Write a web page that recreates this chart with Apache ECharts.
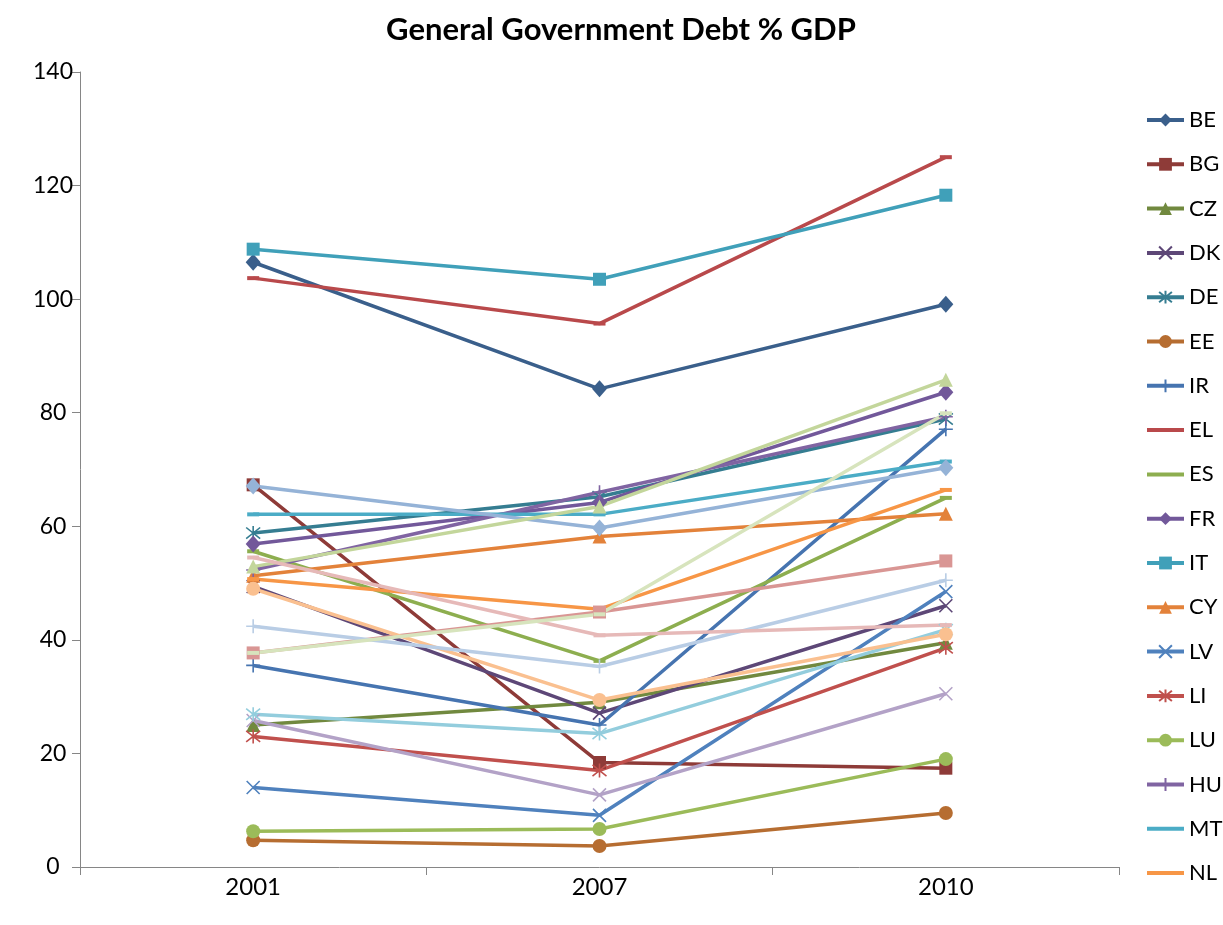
<!DOCTYPE html>
<html>
<head>
<meta charset="utf-8">
<script src="https://cdn.jsdelivr.net/npm/echarts@6/dist/echarts.min.js"></script>
<style>
  html, body { margin: 0; padding: 0; background: #fff; }
  #chart { width: 1223px; height: 925px; }
</style>
</head>
<body>
<div id="chart"></div>
<script>
// Years on the category axis
const categories = ['2001', '2007', '2010'];
const yTicks = [0, 20, 40, 60, 80, 100, 120, 140];

// General government debt, % of GDP
const BE = [106.5, 84.2, 99.1];
const BG = [67.3, 18.4, 17.4];
const CZ = [25.0, 29.0, 39.5];
const DK = [49.4, 27.1, 46.0];
const DE = [58.8, 65.2, 78.9];
const EE = [4.7, 3.7, 9.5];
const IR = [35.5, 25.0, 77.1];
const EL = [103.7, 95.7, 125.0];
const ES = [55.6, 36.3, 65.0];
const FR = [56.9, 64.2, 83.6];
const IT = [108.8, 103.5, 118.3];
const CY = [51.3, 58.2, 62.2];
const LV = [14.0, 9.1, 48.5];
const LI = [23.0, 17.0, 38.6];
const LU = [6.3, 6.7, 19.0];
const HU = [52.3, 66.0, 79.3];
const MT = [62.1, 62.1, 71.4];
const NL = [50.7, 45.4, 66.4];
const AT = [67.1, 59.7, 70.3];
const PL = [37.7, 44.9, 53.9];
const PT = [52.9, 63.5, 85.8];
const RO = [25.8, 12.7, 30.5];
const SI = [26.9, 23.5, 41.8];
const SK = [49.0, 29.4, 41.0];
const FI = [42.4, 35.3, 50.5];
const SE = [54.5, 40.8, 42.6];
const UK = [37.7, 44.5, 79.9];

const countries = ['BE','BG','CZ','DK','DE','EE','IR','EL','ES','FR','IT','CY','LV','LI','LU','HU','MT','NL',
                   'AT','PL','PT','RO','SI','SK','FI','SE','UK'];
const values = {BE, BG, CZ, DK, DE, EE, IR, EL, ES, FR, IT, CY, LV, LI, LU, HU, MT, NL,
                AT, PL, PT, RO, SI, SK, FI, SE, UK};

const colors = [
  '#3A5F8B', '#8E3B38', '#71893F', '#5D4777', '#357D91', '#B66D31',
  '#4674B0', '#B9494B', '#8DAE4F', '#72589A', '#40A0B9', '#E3823A',
  '#4F81BD', '#C0504D', '#9BBB59', '#8064A2', '#4BACC6', '#F79646',
  '#95B3D7', '#D99694', '#C3D69B', '#B3A2C7', '#93CDDD', '#FAC090',
  '#B9CDE5', '#E6B9B8', '#D7E4BD'
];

const MARK = {
  diamond: { symbol: 'diamond', size: [15, 17], stroke: 0 },
  square:  { symbol: 'rect', size: 13, stroke: 0 },
  triangle:{ symbol: 'triangle', size: 14, stroke: 0 },
  x:       { symbol: 'path://M0,0L10,10M10,0L0,10', size: 13, stroke: 1.6 },
  star:    { symbol: 'path://M1,1L9,9M9,1L1,9M5,0L5,10', size: 14, stroke: 1.6 },
  circle:  { symbol: 'circle', size: 14, stroke: 0 },
  plus:    { symbol: 'path://M5,0L5,10M0,5L10,5', size: 14, stroke: 1.6 },
  dash:    { symbol: 'rect', size: [12, 4], stroke: 0 }
};
const markerCycle = ['diamond','square','triangle','x','star','circle','plus','dash','dash'];

const FONT = 'Lato';

// Only the first eighteen fit in the legend column; dash-marked series show a bare line
const legendData = countries.slice(0, 18).map((name, i) => {
  const kind = markerCycle[i % markerCycle.length];
  return kind === 'dash'
    ? { name: name, icon: 'path://M0,0L37,0L37,4L0,4Z' }
    : { name: name };
});

const series = countries.map((name, i) => {
  const m = MARK[markerCycle[i % markerCycle.length]];
  const c = colors[i];
  return {
    name: name,
    type: 'line',
    data: values[name],
    symbol: m.symbol,
    symbolSize: m.size,
    showSymbol: true,
    animation: false,
    lineStyle: { color: c, width: 3.5 },
    itemStyle: { color: c, borderColor: c, borderWidth: m.stroke },
    emphasis: { disabled: true }
  };
});

const chart = echarts.init(document.getElementById('chart'));
chart.setOption({
  animation: false,
  backgroundColor: '#ffffff',
  title: {
    text: 'General Government Debt % GDP',
    left: 616,
    textAlign: 'center',
    top: 9,
    textStyle: { fontFamily: FONT, fontWeight: 'bold', fontSize: 31, color: '#000' }
  },
  legend: {
    data: legendData,
    orient: 'vertical',
    left: 1145,
    top: 109,
    padding: 0,
    itemWidth: 37,
    itemHeight: 16,
    itemGap: 22.3,
    lineStyle: { width: 4 },
    textStyle: { fontFamily: FONT, fontSize: 22, color: '#000' }
  },
  grid: { left: 80, right: 104, top: 72, bottom: 58, containLabel: false },
  xAxis: {
    type: 'category',
    data: categories,
    boundaryGap: true,
    axisLine: { lineStyle: { color: '#868686', width: 1 } },
    axisTick: { show: true, length: 8, lineStyle: { color: '#868686' } },
    axisLabel: { fontFamily: FONT, fontSize: 24, color: '#000', margin: 8 },
    splitLine: { show: false }
  },
  yAxis: {
    type: 'value',
    min: yTicks[0],
    max: yTicks[yTicks.length - 1],
    interval: 20,
    axisLine: { show: true, lineStyle: { color: '#868686', width: 1 } },
    axisTick: { show: true, length: 8, lineStyle: { color: '#868686' } },
    axisLabel: { fontFamily: FONT, fontSize: 23, color: '#000', margin: 27, align: 'center' },
    splitLine: { show: false }
  },
  series: series
});
</script>
</body>
</html>
